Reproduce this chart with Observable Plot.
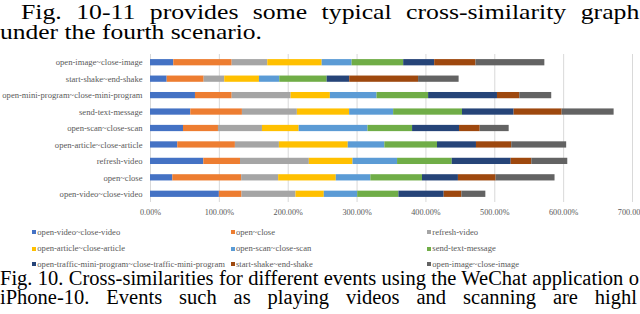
<!DOCTYPE html>
<html><head><meta charset="utf-8">
<script src="https://cdn.jsdelivr.net/npm/d3@7"></script>
<script src="https://cdn.jsdelivr.net/npm/@observablehq/plot@0.6"></script>
<style>
html,body{margin:0;padding:0;background:#fff;}
#page{position:relative;width:640px;height:314px;overflow:hidden;background:#fff;}
.para{position:absolute;white-space:nowrap;font-family:"Liberation Serif","Times New Roman",serif;color:#000;transform-origin:0 0;}
#chart{position:absolute;left:0;top:44px;}
.leg{position:absolute;font-family:"Liberation Serif","Times New Roman",serif;font-size:8.6px;color:#595959;white-space:nowrap;line-height:8px;}
.sw{position:absolute;width:4px;height:4px;}
</style></head><body><div id="page"><div id="chart"></div></div>
<script>
// ---- data ----
const categories = [
  "open-image~close-image",
  "start-shake~end-shake",
  "open-mini-program~close-mini-program",
  "send-text-message",
  "open-scan~close-scan",
  "open-article~close-article",
  "refresh-video",
  "open~close",
  "open-video~close-video"
];
const seriesNames = [
  "open-video~close-video",
  "open~close",
  "refresh-video",
  "open-article~close-article",
  "open-scan~close-scan",
  "send-text-message",
  "open-traffic-mini-program~close-traffic-mini-program",
  "start-shake~end-shake",
  "open-image~close-image"
];
const seriesColors = ["#4472C4","#ED7D31","#A5A5A5","#FFC000","#5B9BD5","#70AD47","#264478","#9E480E","#636363"];
// values (%) per series, in category order
const openVideo   = [33.8, 24.2, 65.3, 58.5, 47.9, 39.6, 77.4, 32.4, 100];
const openClose   = [84.8, 53.7, 53.3, 75.0, 50.8, 83.7, 53.3, 100, 32.9];
const refreshVid  = [51.7, 29.9, 85.6, 79.8, 63.9, 63.9, 100, 53.7, 78.4];
const openArticle = [79.0, 50.4, 57.0, 75.9, 53.3, 100, 63.4, 83.7, 41.1];
const openScan    = [43.5, 29.5, 67.8, 63.9, 100, 53.1, 64.7, 50.2, 48.5];
const sendText    = [74.9, 68.8, 74.9, 100, 64.7, 76.5, 79.4, 75.0, 59.9];
const trafficMini = [45.0, 32.8, 100, 75.0, 68.2, 56.6, 85.6, 52.2, 65.7];
const startShake  = [60.0, 100, 32.4, 69.7, 30.0, 51.2, 30.0, 54.7, 25.7];
const openImage   = [100, 58.9, 46.4, 75.5, 42.1, 79.8, 52.2, 85.6, 34.8];
const xTicks = [0, 100, 200, 300, 400, 500, 600, 700];

const topLines = ["Fig. 10-11 provides some typical cross-similarity graph", "under the fourth scenario."];
const captionLines = ["Fig. 10. Cross-similarities for different events using the WeChat application o",
                      "iPhone-10. Events such as playing videos and scanning are highl"];

// ---- chart ----
const seriesValues = [openVideo, openClose, refreshVid, openArticle, openScan, sendText, trafficMini, startShake, openImage];
const rows = [];
seriesNames.forEach((s, si) => categories.forEach((c, ci) => rows.push({category: c, series: s, value: seriesValues[si][ci]})));
const fmt = d => d.toFixed(2) + "%";

const chart = Plot.plot({
  width: 640, height: 180,
  marginTop: 10, marginBottom: 22, marginLeft: 150, marginRight: 8,
  style: {fontFamily: '"Liberation Serif","Times New Roman",serif', fontSize: "8.6px", color: "#595959", background: "white"},
  x: {domain: [0, 700], ticks: xTicks, tickFormat: fmt, tickSize: 0, tickPadding: 7, label: null},
  y: {domain: categories, paddingInner: 0.62, paddingOuter: 0.31, round: false, tickSize: 0, tickPadding: 8, label: null},
  color: {domain: seriesNames, range: seriesColors},
  marks: [
    Plot.ruleX(xTicks, {stroke: "#d9d9d9", strokeWidth: 1}),
    Plot.barX(rows, Plot.stackX({y: "category", x: "value", fill: "series", order: null}))
  ]
});
document.getElementById("chart").appendChild(chart);
d3.select(chart).selectAll('[aria-label="x-axis tick label"] text, [aria-label="x-axis"] text').style("font-size", "8.2px");

// ---- legend ----
const page = document.getElementById("page");
const legCols = [32.3, 231, 427.3];
const legRows = [232.3, 248.5, 264.2];
seriesNames.forEach((s, i) => {
  const cx = legCols[i % 3], cy = legRows[Math.floor(i / 3)];
  const sw = document.createElement("div");
  sw.className = "sw"; sw.style.left = cx + "px"; sw.style.top = (cy - 2) + "px"; sw.style.background = seriesColors[i];
  page.appendChild(sw);
  const t = document.createElement("div");
  t.className = "leg"; t.textContent = s; t.style.left = (cx + 5) + "px"; t.style.top = (cy - 4.5) + "px";
  page.appendChild(t);
});

// ---- paragraph text ----
// scale: horizontal stretch of glyphs; if endX given, word gaps are widened to reach endX
function placeLine(text, left, baseline, size, scale, endX) {
  const lh = Math.round(size * 0.8);
  const d = document.createElement("div");
  d.className = "para"; d.textContent = text;
  d.style.fontSize = size + "px"; d.style.lineHeight = lh + "px";
  d.style.left = left + "px";
  d.style.top = (baseline - ((lh - 1.107 * size) / 2 + 0.891 * size)) + "px";
  page.appendChild(d);
  const w = d.getBoundingClientRect().width;
  if (endX != null) {
    const n = (text.match(/ /g) || []).length;
    d.style.wordSpacing = (((endX - left) / scale - w) / n) + "px";
  }
  if (scale !== 1) d.style.transform = "scaleX(" + scale + ")";
}
placeLine(topLines[0], 20.7, 19, 22, 1.17, 639);
placeLine(topLines[1], 0, 39, 22, 262 / (10.275 * 22), null);
placeLine(captionLines[0], 0, 285, 20.5, 1, 639);
placeLine(captionLines[1], 0, 303.7, 20.5, 1, 637);
</script></body></html>
